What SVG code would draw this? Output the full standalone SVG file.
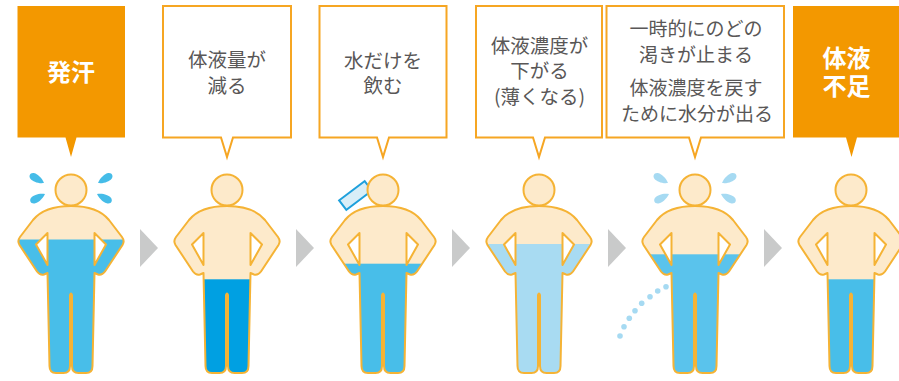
<svg xmlns="http://www.w3.org/2000/svg" xmlns:xlink="http://www.w3.org/1999/xlink" width="899" height="381" viewBox="0 0 899 381">
  <style>
    .t { font-family: "Noto Sans CJK JP", "Noto Sans", sans-serif; font-size: 19.5px; fill: #595757; text-anchor: middle; }
    .t5 { font-size: 19px; }
    .w { font-family: "Noto Sans CJK JP", "Noto Sans", sans-serif; font-size: 24px; font-weight: bold; fill: #ffffff; text-anchor: middle; }
    .solid { fill: #F39800; }
    .frame { fill: #ffffff; stroke: #F6A623; stroke-width: 2; }
    .skin { fill: #FDEACB; }
    .line { fill: none; stroke: #F5B335; stroke-width: 2; stroke-linejoin: round; }
    .head { fill: #FDEACB; stroke: #F5B335; stroke-width: 2; }
    .arrow { fill: #C9CACA; }
    .sweat { fill: #45BCE8; }
    .sweat-light { fill: #A6DAF2; }
  </style>
  <defs>
    <!-- standing figure with hands on hips, centred on x = 0 -->
    <path id="body" fill-rule="evenodd" clip-rule="evenodd" d="M 0 206 C -16 206 -29 209 -38 220 L -51 237 Q -54 241 -51.5 245 L -34 271.5 Q -31 275.5 -27 274.5 L -23.5 273 L -21.5 366 Q -21.5 373 -15 373 L -7.5 373 Q -1 373 -1 366 L -1 295 Q 0 292 1 295 L 1 366 Q 1 373 7.5 373 L 15 373 Q 21.5 373 21.5 366 L 23.5 273 L 27 274.5 Q 31 275.5 34 271.5 L 51.5 245 Q 54 241 51 237 L 38 220 C 29 209 16 206 0 206 Z M -23.5 233 L -35 244.5 L -23.5 265 Z M 23.5 233 L 35 244.5 L 23.5 265 Z"/>
    <clipPath id="bodyClip" clipPathUnits="userSpaceOnUse">
      <use xlink:href="#body" href="#body"/>
    </clipPath>
    <!-- single drop, tail at origin, round end towards -x -->
    <path id="drop" d="M 0 0 C -5 -4 -11 -4 -13 -3.6 C -17.5 -2.5 -17.5 2.5 -13 3.6 C -11 4 -5 4 0 0 Z"/>
    <g id="sweatDrops">
      <use href="#drop" transform="translate(-27,183) rotate(31)"/>
      <use href="#drop" transform="translate(-26,194) rotate(-28)"/>
      <g transform="scale(-1,1)">
        <use href="#drop" transform="translate(-27,183) rotate(31)"/>
        <use href="#drop" transform="translate(-26,194) rotate(-28)"/>
      </g>
    </g>
  </defs>

  <!-- step arrows -->
  <g id="connectors">
    <polygon class="arrow" points="140,229 158,248 140,267"/>
    <polygon class="arrow" points="296,229 314,248 296,267"/>
    <polygon class="arrow" points="452,229 470,248 452,267"/>
    <polygon class="arrow" points="608,229 626,248 608,267"/>
    <polygon class="arrow" points="764,229 782,248 764,267"/>
  </g>

  <!-- 1: sweating -->
  <g id="step1">
    <path class="solid" d="M 17.5 6 H 125 V 137.5 H 76.5 L 71 157 L 65.5 137.5 H 17.5 Z"/>
    <text class="w" x="71" y="80.5">発汗</text>
    <g transform="translate(71,0)">
      <use class="skin" href="#body"/>
      <rect clip-path="url(#bodyClip)" x="-60" y="239.5" width="120" height="140" fill="#48BEE9"/>
      <use class="line" href="#body"/>
      <circle class="head" cx="0" cy="190" r="15.5"/>
      <use class="sweat" href="#sweatDrops"/>
    </g>
  </g>

  <!-- 2: body fluid decreases -->
  <g id="step2">
    <path class="frame" d="M 163 6 H 291 V 137.5 H 233 L 227 157 L 221 137.5 H 163 Z"/>
    <text class="t" x="227" y="66.5">体液量が<tspan x="227" dy="26">減る</tspan></text>
    <g transform="translate(227,0)">
      <use class="skin" href="#body"/>
      <rect clip-path="url(#bodyClip)" x="-60" y="279.3" width="120" height="100" fill="#00A0E2"/>
      <use class="line" href="#body"/>
      <circle class="head" cx="0" cy="190" r="15.5"/>
    </g>
  </g>

  <!-- 3: drinking only water -->
  <g id="step3">
    <path class="frame" d="M 319.5 6 H 446.5 V 137.5 H 389 L 383 157 L 377 137.5 H 319.5 Z"/>
    <text class="t" x="383" y="67.5">水だけを<tspan x="383" dy="25.5">飲む</tspan></text>
    <g transform="translate(383,0)">
      <use class="skin" href="#body"/>
      <rect clip-path="url(#bodyClip)" x="-60" y="263.7" width="120" height="120" fill="#48BEE9"/>
      <use class="line" href="#body"/>
      <g transform="translate(-27.5,195.5) rotate(-37)">
        <rect x="-16" y="-6" width="32" height="12" fill="#D8EEF8" stroke="#1EA0DC" stroke-width="2"/>
      </g>
      <circle class="head" cx="0" cy="190" r="15.5"/>
    </g>
  </g>

  <!-- 4: concentration falls -->
  <g id="step4">
    <path class="frame" d="M 476 6 H 602 V 137.5 H 545 L 539 157 L 533 137.5 H 476 Z"/>
    <text class="t" x="539.5" y="52.5">体液濃度が<tspan x="539.5" dy="25">下がる</tspan><tspan x="539.5" dy="26">(薄くなる)</tspan></text>
    <g transform="translate(539,0)">
      <use class="skin" href="#body"/>
      <rect clip-path="url(#bodyClip)" x="-60" y="244" width="120" height="140" fill="#A8DBF2"/>
      <use class="line" href="#body"/>
      <circle class="head" cx="0" cy="190" r="15.5"/>
    </g>
  </g>

  <!-- 5: thirst stops, water is released -->
  <g id="step5">
    <path class="frame" d="M 606.5 6 H 784 V 137.5 H 701 L 695 157 L 689 137.5 H 606.5 Z"/>
    <text class="t t5" x="696" y="36.3">一時的にのどの<tspan x="696" dy="26">渇きが止まる</tspan><tspan x="696" dy="32.4">体液濃度を戻す</tspan><tspan x="697" dy="26">ために水分が出る</tspan></text>
    <g transform="translate(695,0)">
      <use class="skin" href="#body"/>
      <rect clip-path="url(#bodyClip)" x="-60" y="254.3" width="120" height="130" fill="#5AC3EC"/>
      <use class="line" href="#body"/>
      <circle class="head" cx="0" cy="190" r="15.5"/>
      <use class="sweat-light" href="#sweatDrops"/>
    </g>
    <g class="sweat-light">
      <circle cx="620" cy="336" r="2.8"/>
      <circle cx="624" cy="326.7" r="2.8"/>
      <circle cx="629.3" cy="318.3" r="2.8"/>
      <circle cx="635" cy="310.7" r="2.8"/>
      <circle cx="641.7" cy="303.3" r="2.8"/>
      <circle cx="650" cy="296.7" r="2.8"/>
      <circle cx="657.7" cy="291" r="2.8"/>
      <circle cx="666" cy="286.7" r="2.8"/>
    </g>
  </g>

  <!-- 6: dehydration -->
  <g id="step6">
    <path class="solid" d="M 793 6 H 902 V 137.5 H 857 L 851.5 157 L 846 137.5 H 793 Z"/>
    <text class="w" x="846.5" y="66.6">体液<tspan x="846.5" dy="28.5">不足</tspan></text>
    <g transform="translate(851,0)">
      <use class="skin" href="#body"/>
      <rect clip-path="url(#bodyClip)" x="-60" y="279.3" width="120" height="100" fill="#48BEE9"/>
      <use class="line" href="#body"/>
      <circle class="head" cx="0" cy="190" r="15.5"/>
    </g>
  </g>
</svg>
